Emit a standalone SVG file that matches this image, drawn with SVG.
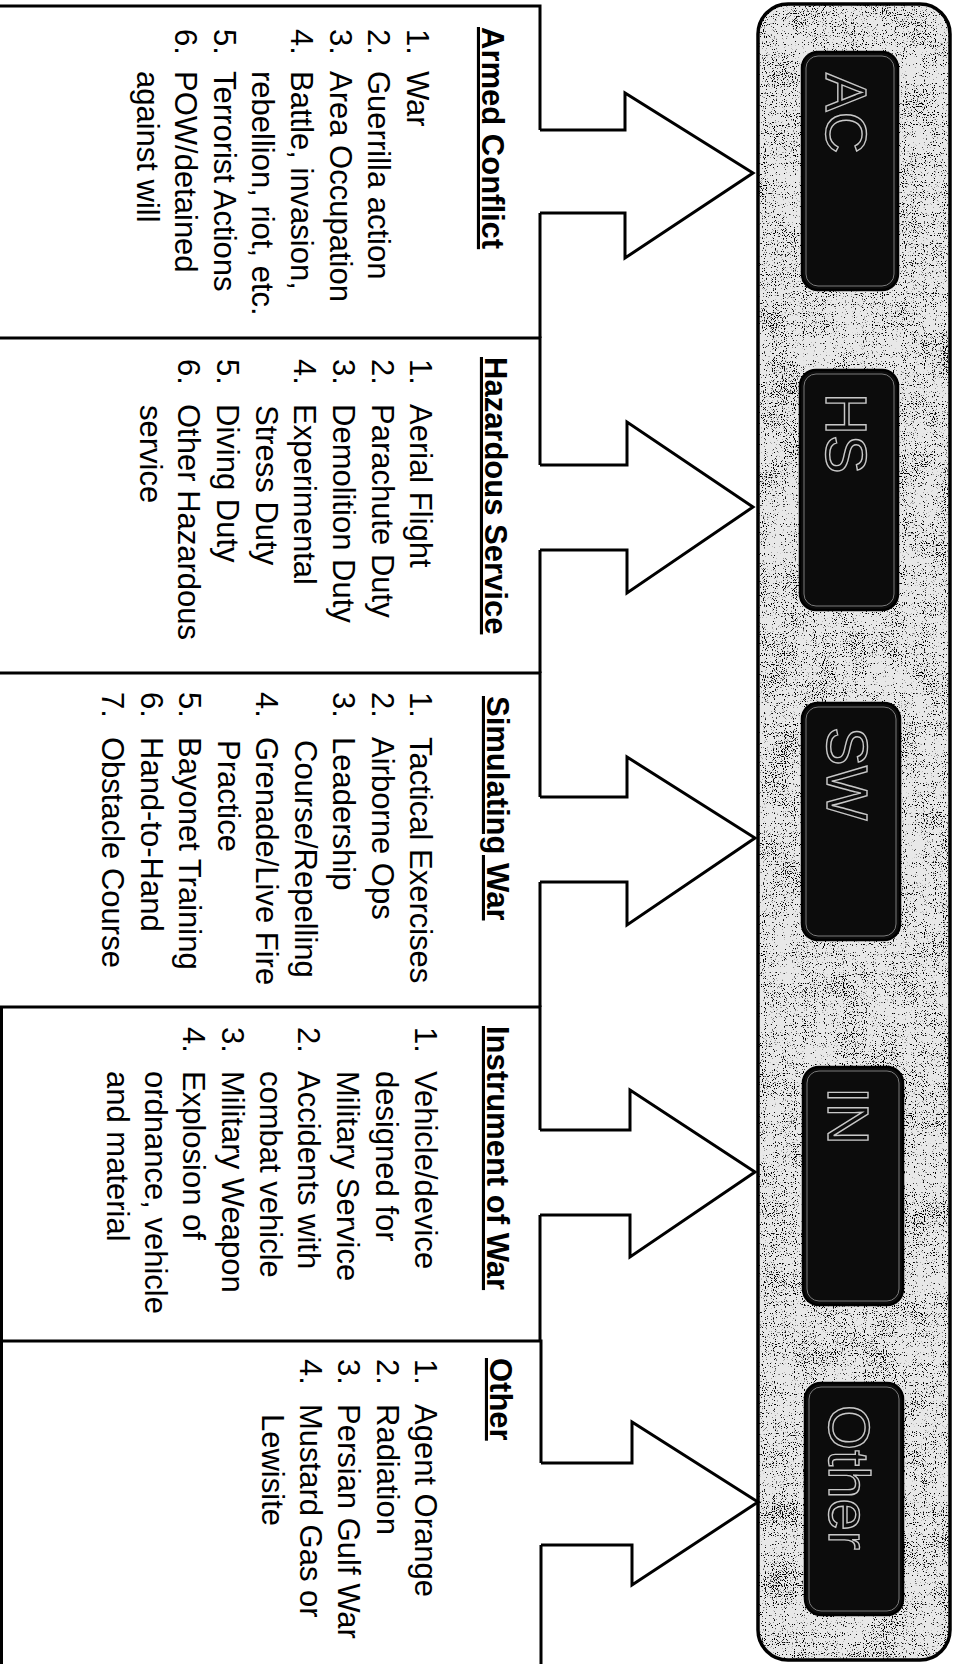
<svg xmlns="http://www.w3.org/2000/svg" width="956" height="1664" viewBox="0 0 956 1664">
<defs>
<style>
.ln{fill:none;stroke:#000;stroke-width:3;stroke-linejoin:miter}
.arr{fill:#fff;stroke:#000;stroke-width:3;stroke-linejoin:miter}
.t{font-family:"Liberation Sans",Arial,sans-serif;font-size:31px;fill:#000}
.h{font-weight:bold;text-decoration:underline}
.btn{fill:#0c0c0c;stroke:#000;stroke-width:2.5}
.btnin{fill:none;stroke:#7a7a7a;stroke-width:1}
.lbl{font-family:"Liberation Sans",Arial,sans-serif;font-size:58px;fill:none;stroke:#c8c8c8;stroke-width:1.4}
</style>
<filter id="grain" x="0" y="0" width="1" height="1" color-interpolation-filters="sRGB">
<feTurbulence type="fractalNoise" baseFrequency="0.9" numOctaves="1" seed="2" result="hf"/>
<feTurbulence type="fractalNoise" baseFrequency="0.03" numOctaves="2" seed="9" result="lf"/>
<feComposite in="hf" in2="lf" operator="arithmetic" k1="0" k2="0.8" k3="0.2" k4="0" result="mix"/>
<feColorMatrix in="mix" type="matrix" values="0 0 0 0 0  0 0 0 0 0  0 0 0 0 0  0 0 0 -16 6.7" result="dots"/>
<feComposite in="dots" in2="SourceGraphic" operator="in"/>
</filter>
</defs>
<rect width="956" height="1664" fill="#fff"/>

<g id="panel">
<rect x="758" y="4" width="192" height="1656" rx="30" fill="#e8e8e8"/>
<rect x="758" y="4" width="192" height="1656" rx="30" fill="#222" filter="url(#grain)"/>
<rect x="758" y="4" width="192" height="1656" rx="30" fill="none" stroke="#000" stroke-width="3.5"/>
</g>

<g id="btn-ac">
<rect class="btn" x="802" y="52" width="96" height="238" rx="16"/>
<rect class="btnin" x="806" y="56" width="88" height="230" rx="12"/>
<text class="lbl" transform="rotate(90)" x="73" y="-826">AC</text>
</g>
<g id="btn-hs">
<rect class="btn" x="800" y="370" width="98" height="240" rx="16"/>
<rect class="btnin" x="804" y="374" width="90" height="232" rx="12"/>
<text class="lbl" transform="rotate(90)" x="393" y="-826">HS</text>
</g>
<g id="btn-sw">
<rect class="btn" x="802" y="703" width="98" height="237" rx="16"/>
<rect class="btnin" x="806" y="707" width="90" height="229" rx="12"/>
<text class="lbl" transform="rotate(90)" x="727" y="-827">SW</text>
</g>
<g id="btn-in">
<rect class="btn" x="803" y="1067" width="100" height="238" rx="16"/>
<rect class="btnin" x="807" y="1071" width="92" height="230" rx="12"/>
<text class="lbl" transform="rotate(90)" x="1087" y="-828">IN</text>
</g>
<g id="btn-other">
<rect class="btn" x="805" y="1383" width="98" height="232" rx="16"/>
<rect class="btnin" x="809" y="1387" width="90" height="224" rx="12"/>
<text class="lbl" transform="rotate(90)" x="1405" y="-829">Other</text>
</g>

<g id="connectors">
<path class="arr" d="M540,130 H625 V93 L753,173 L625,258 V213 H540"/>
<path class="arr" d="M540,465 H627 V422 L753,507 L627,593 V550 H540"/>
<path class="arr" d="M540,797 H627 V757 L755,838 L627,925 V882 H540"/>
<path class="arr" d="M540,1130 H630 V1090 L755,1172 L630,1257 V1215 H540"/>
<path class="arr" d="M541,1463 H632 V1422 L758,1502 L632,1585 V1545 H541"/>
</g>

<g id="box-ac">
<path class="ln" d="M0,6 H540 V130 M540,213 V338"/>
<g transform="rotate(90)" class="t">
<text class="h" x="27" y="-482">Armed Conflict</text>
<text x="29" y="-407">1.</text><text x="71" y="-407">War</text>
<text x="29" y="-368">2.</text><text x="71" y="-368">Guerrilla action</text>
<text x="29" y="-330">3.</text><text x="71" y="-330">Area Occupation</text>
<text x="29" y="-291">4.</text><text x="71" y="-291">Battle, invasion,</text>
<text x="71" y="-252">rebellion, riot, etc.</text>
<text x="29" y="-214">5.</text><text x="71" y="-214">Terrorist Actions</text>
<text x="29" y="-175">6.</text><text x="71" y="-175">POW/detained</text>
<text x="71" y="-137">against will</text>
</g>
</g>

<g id="box-hs">
<path class="ln" d="M0,338 H540 V465 M540,550 V673"/>
<g transform="rotate(90)" class="t">
<text class="h" x="357" y="-485">Hazardous Service</text>
<text x="359" y="-410">1.</text><text x="404" y="-410">Aerial Flight</text>
<text x="359" y="-372">2.</text><text x="404" y="-372">Parachute Duty</text>
<text x="359" y="-333">3.</text><text x="404" y="-333">Demolition Duty</text>
<text x="359" y="-294">4.</text><text x="404" y="-294">Experimental</text>
<text x="405" y="-256">Stress Duty</text>
<text x="359" y="-217">5.</text><text x="404" y="-217">Diving Duty</text>
<text x="359" y="-178">6.</text><text x="404" y="-178">Other Hazardous</text>
<text x="405" y="-140">service</text>
</g>
</g>

<g id="box-sw">
<path class="ln" d="M0,673 H540 V797 M540,882 V1007"/>
<g transform="rotate(90)" class="t">
<text class="h" x="696" y="-487">Simulating War</text>
<text x="692" y="-410">1.</text><text x="737" y="-410">Tactical Exercises</text>
<text x="692" y="-372">2.</text><text x="737" y="-372">Airborne Ops</text>
<text x="692" y="-333">3.</text><text x="737" y="-333">Leadership</text>
<text x="740" y="-295">Course/Repelling</text>
<text x="692" y="-256">4.</text><text x="737" y="-256">Grenade/Live Fire</text>
<text x="740" y="-218">Practice</text>
<text x="692" y="-179">5.</text><text x="737" y="-179">Bayonet Training</text>
<text x="692" y="-141">6.</text><text x="737" y="-141">Hand-to-Hand</text>
<text x="692" y="-102">7.</text><text x="737" y="-102">Obstacle Course</text>
</g>
</g>

<g id="box-in">
<path class="ln" d="M0,1007 H540 V1130 M540,1215 V1341"/>
<path class="ln" d="M1.5,1007 V1341"/>
<g transform="rotate(90)" class="t">
<text class="h" x="1026" y="-487">Instrument of War</text>
<text x="1027" y="-415">1.</text><text x="1071" y="-415">Vehicle/device</text>
<text x="1071" y="-376">designed for</text>
<text x="1071" y="-337">Military Service</text>
<text x="1027" y="-298">2.</text><text x="1071" y="-298">Accidents with</text>
<text x="1071" y="-260">combat vehicle</text>
<text x="1027" y="-222">3.</text><text x="1071" y="-222">Military Weapon</text>
<text x="1027" y="-183">4.</text><text x="1071" y="-183">Explosion of</text>
<text x="1071" y="-145">ordnance, vehicle</text>
<text x="1071" y="-107">and material</text>
</g>
</g>

<g id="box-other">
<path class="ln" d="M0,1341 H541 V1463 M541,1545 V1664"/>
<path class="ln" d="M1.5,1341 V1664"/>
<g transform="rotate(90)" class="t">
<text class="h" x="1358" y="-490">Other</text>
<text x="1359" y="-415">1.</text><text x="1404" y="-415">Agent Orange</text>
<text x="1359" y="-377">2.</text><text x="1404" y="-377">Radiation</text>
<text x="1359" y="-338">3.</text><text x="1404" y="-338">Persian Gulf War</text>
<text x="1359" y="-300">4.</text><text x="1404" y="-300">Mustard Gas or</text>
<text x="1414" y="-262">Lewisite</text>
</g>
</g>
</svg>
